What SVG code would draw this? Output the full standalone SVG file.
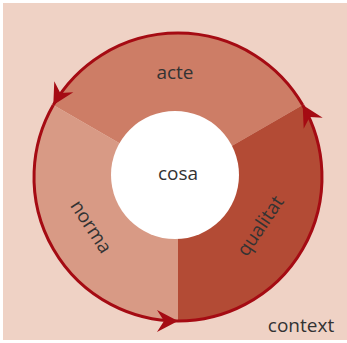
<svg xmlns="http://www.w3.org/2000/svg" width="347" height="343" viewBox="0 0 347 343">
  <style>
    .lbl { font-family: "Open Sans", "Noto Sans", "Liberation Sans", sans-serif; font-size: 19px; fill: #333333; text-anchor: middle; }
    .arc { fill: none; stroke: #A50B13; stroke-width: 3; marker-end: url(#ah); }
  </style>
  <defs>
    <marker id="ah" markerUnits="userSpaceOnUse" markerWidth="30" markerHeight="26" viewBox="0 0 30 26" refX="24" refY="13" orient="auto">
      <path d="M24,13 L3,2 L10,13 L3,24 Z" fill="#A50B13"/>
    </marker>
  </defs>
  <rect x="3" y="3" width="344" height="337" fill="#EFD2C5"/>
  <g id="acte">
    <path d="M178,177 L302.7,105 A144,144 0 0 0 53.3,105 Z" fill="#CD7D66"/>
    <text class="lbl" x="175" y="79">acte</text>
  </g>
  <g id="norma">
    <path d="M178,177 L53.3,105 A144,144 0 0 0 178,321 Z" fill="#D89A85"/>
    <text class="lbl" transform="translate(90,227.5) rotate(57)" x="0" y="5">norma</text>
  </g>
  <g id="qualitat">
    <path d="M178,177 L178,321 A144,144 0 0 0 302.7,105 Z" fill="#B34B35"/>
    <text class="lbl" transform="translate(261.5,226.7) rotate(-56)" x="0" y="5">qualitat</text>
  </g>
  <g id="cosa">
    <circle cx="175" cy="175" r="64" fill="#FFFFFF"/>
    <text class="lbl" x="178" y="180">cosa</text>
  </g>
  <g id="context">
    <text class="lbl" x="301" y="331.5">context</text>
  </g>
  <g id="connectors">
    <path class="arc" d="M302.7,105 A144,144 0 0 0 53.3,105"/>
    <path class="arc" d="M53.3,105 A144,144 0 0 0 178,321"/>
    <path class="arc" d="M178,321 A144,144 0 0 0 302.7,105"/>
  </g>
</svg>
